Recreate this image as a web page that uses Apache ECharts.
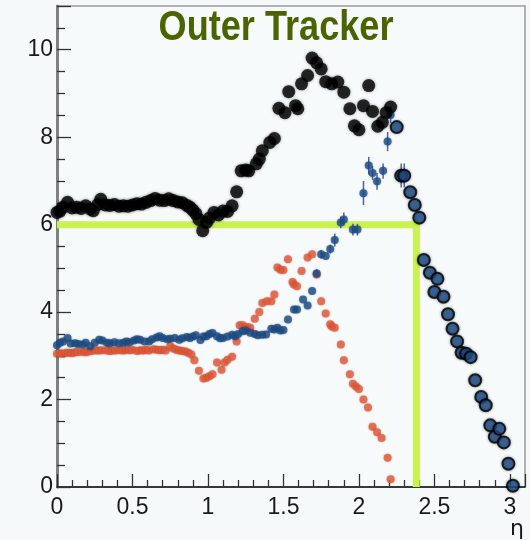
<!DOCTYPE html>
<html>
<head>
<meta charset="utf-8">
<script src="https://cdn.jsdelivr.net/npm/echarts@6/dist/echarts.min.js"></script>
<style>
html,body{margin:0;padding:0;background:#f5f9fa;}
#chart{width:530px;height:540px;}
</style>
</head>
<body>
<div id="chart"></div>
<script>
// ---- data (eta, value) ----
const titleText = 'Outer Tracker';
const xAxisName = 'η';
const xTicks = [0, 0.5, 1, 1.5, 2, 2.5, 3];
const yTicks = [0, 2, 4, 6, 8, 10];

const totalBarrel = [
  [0.00,6.28],[0.02,6.31],[0.04,6.40],[0.07,6.51],[0.10,6.38],[0.13,6.40],[0.16,6.37],[0.19,6.43],
  [0.22,6.36],[0.24,6.32],[0.27,6.46],[0.29,6.58],[0.32,6.45],[0.35,6.44],[0.38,6.46],[0.41,6.42],
  [0.44,6.43],[0.47,6.42],[0.50,6.45],[0.53,6.48],[0.56,6.47],[0.59,6.51],[0.62,6.55],[0.65,6.60],
  [0.68,6.56],[0.71,6.55],[0.74,6.59],[0.77,6.55],[0.80,6.52],[0.83,6.50],[0.86,6.44],[0.88,6.40],
  [0.90,6.33],[0.92,6.25],[0.94,6.12],[0.965,5.86],[0.99,6.05],[1.01,6.15],[1.04,6.28],[1.07,6.22],
  [1.10,6.31],[1.13,6.30],[1.16,6.43],[1.19,6.75],[1.22,7.23],[1.25,7.25],[1.27,7.23],[1.32,7.39],
  [1.34,7.50],[1.36,7.69],[1.41,7.88],[1.44,7.97],[1.47,8.66],[1.51,8.56],[1.535,9.04],[1.58,8.72],
  [1.595,8.65],[1.62,9.22],[1.66,9.41],[1.69,9.81],[1.72,9.70],[1.75,9.56],[1.78,9.27],[1.82,9.22],
  [1.86,9.26],[1.90,9.03],[1.94,8.65],[1.97,8.26],[2.00,8.17],[2.03,8.72],[2.065,9.18],[2.09,8.59],
  [2.125,8.25],[2.155,8.34],[2.18,8.56],[2.21,8.69]
];

const totalForward = [
  [2.25,8.23],[2.28,7.12],[2.30,7.12],[2.34,6.74],[2.37,6.45],[2.40,6.16],[2.43,5.19],[2.47,4.90],
  [2.50,4.46],[2.52,4.76],[2.56,4.35],[2.59,3.95],[2.62,3.62],[2.65,3.33],[2.68,3.07],[2.71,3.05],
  [2.74,2.97],[2.77,2.44],[2.81,2.06],[2.84,1.87],[2.87,1.41],[2.90,1.15],[2.93,1.33],[2.96,1.02],
  [2.99,0.53],[3.02,0.03]
];

const blueSeries = [
  [0.00,3.24],[0.02,3.30],[0.04,3.33],[0.07,3.41],[0.09,3.28],[0.12,3.29],[0.14,3.27],[0.17,3.26],
  [0.19,3.30],[0.22,3.22],[0.25,3.30],[0.28,3.37],[0.30,3.35],[0.33,3.30],[0.35,3.29],[0.38,3.31],
  [0.41,3.29],[0.44,3.30],[0.46,3.33],[0.48,3.31],[0.51,3.35],[0.53,3.38],[0.55,3.37],[0.58,3.33],
  [0.61,3.33],[0.63,3.38],[0.66,3.42],[0.68,3.45],[0.70,3.41],[0.73,3.38],[0.75,3.39],[0.78,3.41],
  [0.81,3.37],[0.83,3.40],[0.86,3.43],[0.88,3.41],[0.90,3.44],[0.92,3.47],[0.95,3.36],[0.97,3.44],
  [0.99,3.45],[1.01,3.50],[1.03,3.52],[1.06,3.45],[1.08,3.40],[1.10,3.41],[1.13,3.44],[1.16,3.48],
  [1.18,3.45],[1.20,3.50],[1.23,3.56],[1.25,3.58],[1.28,3.53],[1.31,3.50],[1.33,3.47],[1.36,3.48],
  [1.385,3.49],[1.42,3.62],[1.44,3.60],[1.46,3.64],[1.48,3.58],[1.50,3.59],[1.53,3.83],[1.57,4.06],
  [1.59,4.06],[1.63,4.29],[1.66,4.15],[1.69,4.48],[1.72,4.88],[1.75,5.32],[1.78,5.28],[1.81,5.44],
  [1.84,5.65],[1.88,6.05],[1.90,6.12],[1.96,5.89],[1.99,5.89],[2.03,6.72],[2.065,7.35],[2.09,7.18],
  [2.12,6.99],[2.16,7.23],[2.19,7.90],[2.21,8.51]
];

// vertical error bars visible in the reference: [eta, low, high]
const blueErrors = [
  [1.72,4.78,4.98],[1.75,5.22,5.42],[1.81,5.34,5.54],[1.84,5.50,5.80],[1.88,5.92,6.18],[1.90,5.98,6.28],
  [1.96,5.75,6.02],[1.99,5.75,6.02],[2.03,6.45,7.00],[2.065,7.15,7.55],[2.09,7.02,7.34],[2.12,6.80,7.18],
  [2.16,7.05,7.40],[2.19,7.68,8.12],[2.21,8.32,8.70],[2.28,6.85,7.40],[2.30,6.85,7.40]
];

const redSeries = [
  [0.00,3.05],[0.02,3.06],[0.04,3.05],[0.06,3.07],[0.08,3.07],[0.10,3.06],[0.12,3.08],[0.14,3.09],
  [0.17,3.09],[0.19,3.08],[0.21,3.10],[0.23,3.11],[0.26,3.12],[0.28,3.12],[0.30,3.13],[0.33,3.12],
  [0.35,3.11],[0.37,3.12],[0.39,3.12],[0.42,3.13],[0.44,3.12],[0.46,3.14],[0.48,3.13],[0.50,3.14],
  [0.53,3.11],[0.55,3.13],[0.57,3.12],[0.59,3.14],[0.61,3.12],[0.64,3.15],[0.66,3.14],[0.68,3.13],
  [0.70,3.14],[0.72,3.12],[0.75,3.22],[0.77,3.17],[0.79,3.14],[0.81,3.12],[0.83,3.11],[0.85,3.10],
  [0.87,3.07],[0.89,3.03],[0.91,2.90],[0.94,2.66],[0.97,2.48],[0.99,2.50],[1.01,2.53],[1.03,2.58],
  [1.06,2.85],[1.09,2.68],[1.11,2.85],[1.13,2.91],[1.16,2.98],[1.19,3.33],[1.21,3.70],[1.23,3.70],
  [1.26,3.66],[1.28,3.64],[1.31,3.85],[1.34,4.00],[1.36,4.21],[1.39,4.25],[1.42,4.25],[1.44,4.40],
  [1.46,5.02],[1.48,4.97],[1.50,4.96],[1.53,5.21],[1.56,4.69],[1.57,4.63],[1.59,4.59],[1.62,4.94],
  [1.66,5.25],[1.69,5.32],[1.72,4.86],[1.75,4.25],[1.78,3.97],[1.81,3.72],[1.82,3.67],[1.84,3.64],
  [1.88,3.26],[1.90,2.90],[1.94,2.58],[1.96,2.36],[1.98,2.30],[2.00,2.24],[2.03,2.00],[2.06,1.82],
  [2.09,1.38],[2.12,1.25],[2.15,1.12],[2.19,0.67],[2.21,0.18]
];

const greenCut = [[0,6],[2.38,6],[2.38,0]];

// ---- chart ----
const chart = echarts.init(document.getElementById('chart'), null, {renderer:'canvas'});
const BLUE = '#1d4f8c', RED = '#ee5b38', GREEN = '#c9f24f';

chart.setOption({
  backgroundColor: '#f5f9fa',
  animation: false,
  grid: {left: 57, right: 5, top: 6, bottom: 53, show: true,
         backgroundColor: '#f7fafb', borderColor: '#9a9a9a', borderWidth: 1.5},
  xAxis: {
    type: 'value', min: 0, max: 3.1, interval: 0.5,
    axisLine: {show: true, onZero: false, lineStyle: {color: '#111', width: 1.5}},
    axisTick: {show: true, inside: true, length: 13, lineStyle: {color: '#333', width: 1.3}},
    minorTick: {show: true, splitNumber: 5, length: 7, lineStyle: {color: '#333', width: 1.3}},
    splitLine: {show: false},
    axisLabel: {show: true, showMaxLabel: false, margin: 9, fontSize: 23,
      fontFamily: 'Liberation Sans, Arial, sans-serif', color: '#1a1a1a',
      formatter: v => xTicks.indexOf(v) >= 0 ? String(v) : ''}
  },
  yAxis: {
    type: 'value', min: 0, max: 11, interval: 2,
    axisLine: {show: true, onZero: false, lineStyle: {color: '#808080', width: 3}},
    axisTick: {show: true, inside: true, length: 14, lineStyle: {color: '#333', width: 1.3}},
    minorTick: {show: true, splitNumber: 4, length: 8, lineStyle: {color: '#333', width: 1.3}},
    splitLine: {show: false},
    axisLabel: {show: true, showMaxLabel: false, margin: 4, fontSize: 23,
      fontFamily: 'Liberation Sans, Arial, sans-serif', color: '#1a1a1a',
      formatter: v => yTicks.indexOf(v) >= 0 ? String(v) : ''}
  },
  graphic: [
    {type: 'text', x: 276, y: 7, scaleX: 0.84, scaleY: 1, z: 100,
     style: {text: titleText, fill: '#4a6500', textAlign: 'center', textVerticalAlign: 'top',
       font: 'bold 43px "Liberation Sans", Arial, sans-serif'}},
    {type: 'text', x: 517, y: 529, z: 100,
     style: {text: xAxisName, fill: '#1a1a1a', textAlign: 'center', textVerticalAlign: 'middle',
       font: '22px "DejaVu Sans", sans-serif'}}
  ],
  series: [
    {type: 'line', data: greenCut, symbol: 'none', z: 1,
     lineStyle: {color: GREEN, width: 7, cap: 'butt', join: 'miter'}},
    {type: 'custom', data: blueErrors, z: 2,
     renderItem: function (params, api) {
       const p1 = api.coord([api.value(0), api.value(1)]);
       const p2 = api.coord([api.value(0), api.value(2)]);
       return {type: 'line', shape: {x1: p1[0], y1: p1[1], x2: p2[0], y2: p2[1]},
               style: {stroke: '#5060b0', lineWidth: 1.5}};
     }},
    {type: 'scatter', data: redSeries, symbolSize: 8, z: 3,
     itemStyle: {color: RED, shadowBlur: 2, shadowColor: 'rgba(0,0,0,0.35)'}},
    {type: 'scatter', data: blueSeries, symbolSize: 8, z: 4,
     itemStyle: {color: BLUE, shadowBlur: 2, shadowColor: 'rgba(0,0,0,0.35)'}},
    {type: 'scatter', data: totalBarrel, symbolSize: 13, z: 5,
     itemStyle: {color: '#000', shadowBlur: 3, shadowColor: 'rgba(0,0,0,0.45)'}},
    {type: 'scatter', data: totalForward, symbolSize: 12, z: 5,
     itemStyle: {color: BLUE, borderColor: '#000', borderWidth: 2, shadowBlur: 3, shadowColor: 'rgba(0,0,0,0.4)'}}
  ]
});
</script>
</body>
</html>
